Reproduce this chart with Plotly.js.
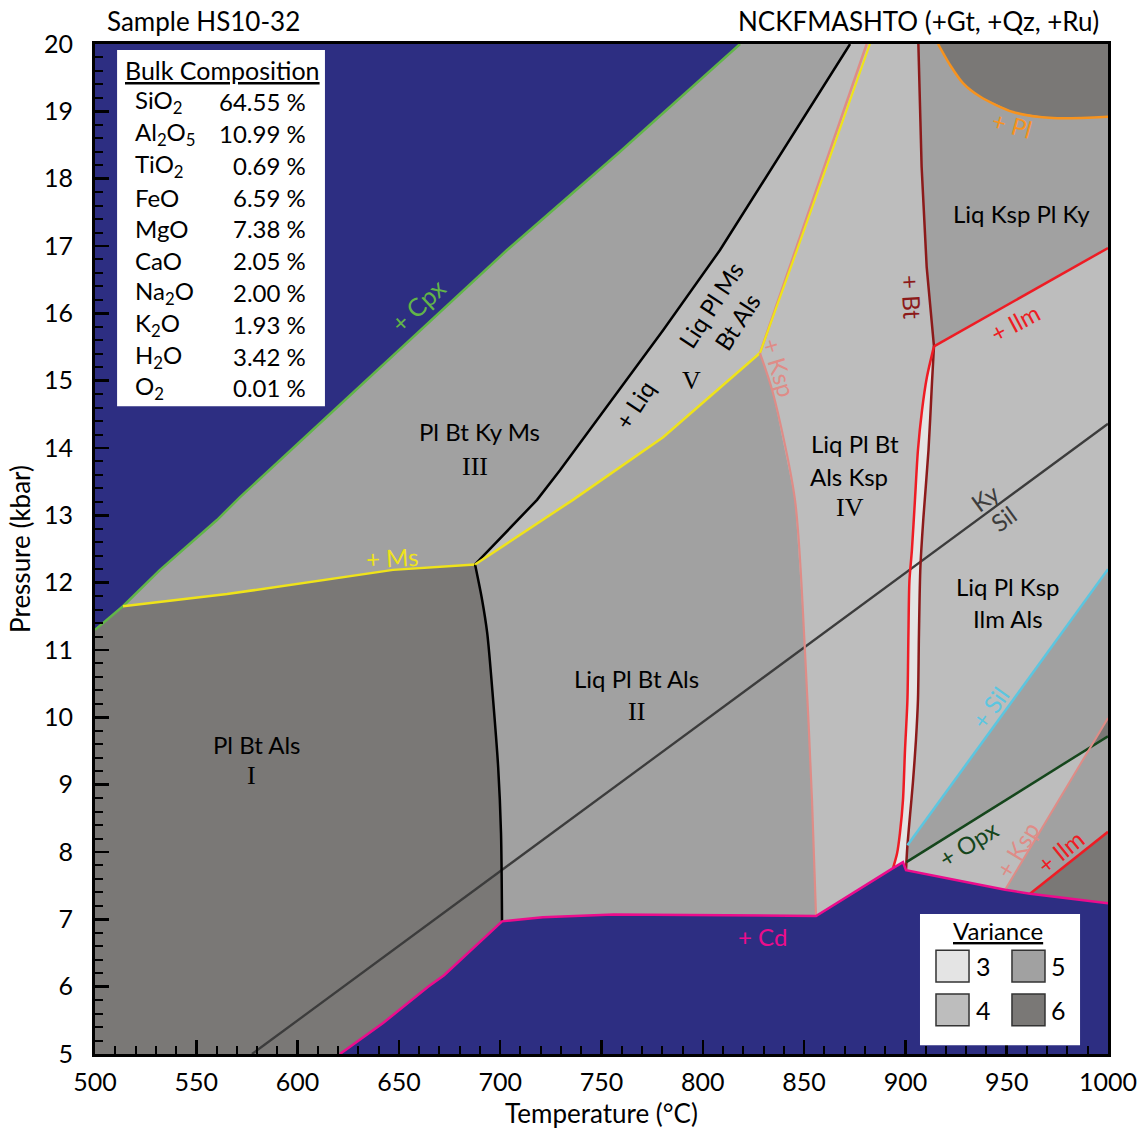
<!DOCTYPE html>
<html>
<head>
<meta charset="utf-8">
<script src="https://cdn.plot.ly/plotly-3.0.1.min.js"></script>
<style>
  html, body { margin: 0; padding: 0; background: #ffffff; }
  #chart { width: 1144px; height: 1131px; }
</style>
</head>
<body>
<div id="chart"></div>
<script>
// ---- Axis extents (T in °C, P in kbar) ----
const Tmin = 500, Tmax = 1000, Pmin = 5, Pmax = 20;

// ---- Reaction lines: temperature (°C) / pressure (kbar) along each boundary ----
const cpxT   = [500, 513.8, 532.1, 560.2, 571.6, 703.4, 759.1, 780.4, 818.4];
const cpxP   = [11.30, 11.65, 12.19, 12.93, 13.27, 16.94, 18.40, 18.98, 20.0];

const msT    = [513.8, 565.2, 647.1, 687.6];
const msP    = [11.65, 11.83, 12.19, 12.27];

const liqHiT = [687.6, 718.2, 729.5, 780.4, 808.5, 872.7];
const liqHiP = [12.27, 13.23, 13.67, 15.75, 16.94, 20.0];

const liqLoT = [687.6, 691.1, 693.6, 696.5, 699.0, 700.4, 700.9];
const liqLoP = [12.27, 11.74, 11.25, 10.26, 9.26, 8.28, 6.97];

const cdT    = [620.9, 642.2, 664.4, 672.3, 700.9, 721.0, 756.0, 805.0, 855.9, 893.9, 898.8, 900.3, 949.2, 961.5, 1000];
const cdP    = [5.00, 5.46, 6.00, 6.17, 6.97, 7.03, 7.07, 7.06, 7.05, 7.76, 7.85, 7.73, 7.44, 7.38, 7.24];

const msHiT  = [687.6, 735.9, 780.4, 828.2];
const msHiP  = [12.27, 13.23, 14.16, 15.41];

const msTopT = [828.2, 846.5, 882.5];
const msTopP = [15.41, 16.94, 20.0];

const kspTopT = [828.2, 880.9];
const kspTopP = [15.41, 20.0];

const kspLoT = [828.2, 834.6, 845.5, 850.4, 853.9, 855.9];
const kspLoP = [15.41, 14.82, 13.23, 11.00, 8.77, 7.05];

const btTopT = [906.4, 908.0, 910.5, 914.1];
const btTopP = [20.0, 18.18, 16.69, 15.51];

const ilmMidT = [914.1, 910.6, 908.2, 906.2, 904.7, 903.2, 902.0, 901.5, 901.0, 899.8, 898.8, 897.3, 895.9, 893.9];
const ilmMidP = [15.51, 15.05, 14.56, 13.97, 13.22, 12.48, 12.03, 11.25, 10.26, 9.51, 8.77, 8.28, 7.98, 7.76];

const btLoT  = [914.1, 913.1, 911.4, 908.9, 907.4, 906.7, 906.2, 905.2, 903.7, 902.3, 901.0, 900.5, 900.3];
const btLoP  = [15.51, 14.96, 13.97, 12.97, 12.23, 11.25, 10.26, 9.66, 9.03, 8.55, 8.10, 7.85, 7.73];

const ilmHiT = [914.1, 956.6, 1000];
const ilmHiP = [15.51, 16.23, 16.97];

const plT    = [916.1, 922.0, 928.4, 936.8, 953.1, 972.8, 1000];
const plP    = [20.0, 19.69, 19.42, 19.22, 18.99, 18.90, 18.92];

const silT   = [901.0, 1000];
const silP   = [8.10, 12.20];

const opxT   = [900.5, 991.4, 1000];
const opxP   = [7.85, 9.56, 9.72];

const kspEaT = [949.2, 991.4, 1000];
const kspEaP = [7.44, 9.56, 9.99];

const ilmLoT = [961.5, 1000];
const ilmLoP = [7.38, 8.30];

const kySilT = [577.5, 1000];
const kySilP = [5.0, 14.36];

// ---- Bulk composition (wt%) ----
const oxides   = ['SiO<sub>2</sub>', 'Al<sub>2</sub>O<sub>5</sub>', 'TiO<sub>2</sub>', 'FeO', 'MgO', 'CaO',
                  'Na<sub>2</sub>O', 'K<sub>2</sub>O', 'H<sub>2</sub>O', 'O<sub>2</sub>'];
const oxideWt  = ['64.55', '10.99', '0.69', '6.59', '7.38', '2.05', '2.00', '1.93', '3.42', '0.01'];

// ---- Variance key ----
const varianceLevels = [3, 4, 5, 6];

// ---- Styles ----
const FONT  = 'Lato, "Noto Sans", sans-serif';
const SERIF = '"Liberation Serif", "DejaVu Serif", serif';
const BLUE  = '#2d2e82';
const VCOL  = { 3: '#e4e4e4', 4: '#bdbdbd', 5: '#a1a1a1', 6: '#7a7876' };
const COL = {
  cpx: '#62b548', ms: '#efe31a', liq: '#000000', ksp: '#df8c87', cd: '#ec0c8c',
  bt: '#8c1a1a', ilm: '#ee1c24', pl: '#f7931e', sil: '#5cc6e0', opx: '#15461c', kysil: '#3c3c3c'
};

// ---- helpers ----
function pts(T, P, i0 = 0, i1 = T.length - 1) {
  const out = [];
  for (let i = i0; i <= i1; i++) out.push([T[i], P[i]]);
  return out;
}
function rev(a) { return a.slice().reverse(); }
function area(parts, color) {
  const all = [].concat(...parts);
  return {
    type: 'scatter', mode: 'lines', x: all.map(p => p[0]), y: all.map(p => p[1]),
    fill: 'toself', fillcolor: color, line: { width: 0 }, hoverinfo: 'skip', showlegend: false
  };
}
function curve(T, P, color, width, smooth) {
  return { type: 'scatter', mode: 'lines', x: T, y: P,
           line: { color: color, width: width, shape: smooth ? 'spline' : 'linear', smoothing: 0.8 },
           hoverinfo: 'skip', showlegend: false };
}

// ---- Stability fields (painted back to front) ----
const traces = [
  // all fields between the Cpx-out and Cd-in lines
  area([pts(cpxT, cpxP), [[Tmax, Pmax]], rev(pts(cdT, cdP)), [[Tmin, Pmin]]], VCOL[4]),
  // I  Pl Bt Als
  area([pts(cpxT, cpxP, 0, 1), pts(msT, msP), pts(liqLoT, liqLoP), rev(pts(cdT, cdP, 0, 4)), [[Tmin, Pmin]]], VCOL[6]),
  // III  Pl Bt Ky Ms
  area([pts(cpxT, cpxP, 1), rev(pts(liqHiT, liqHiP)), rev(pts(msT, msP))], VCOL[5]),
  // II  Liq Pl Bt Als
  area([pts(msHiT, msHiP), pts(kspLoT, kspLoP), rev(pts(cdT, cdP, 4, 8)), rev(pts(liqLoT, liqLoP))], VCOL[5]),
  // narrow three-variant field between Ilm-in and Bt-out
  area([pts(ilmMidT, ilmMidP), pts(cdT, cdP, 9, 11), rev(pts(btLoT, btLoP))], VCOL[3]),
  // Liq Ksp Pl Ky
  area([pts(btTopT, btTopP), pts(ilmHiT, ilmHiP), [[Tmax, Pmax]]], VCOL[5]),
  // Pl-absent cap
  area([pts(plT, plP), [[Tmax, Pmax]]], VCOL[6]),
  // Sil-absent, Opx-absent wedge
  area([pts(silT, silP), rev(pts(opxT, opxP))], VCOL[5]),
  // Ksp-absent, high-T side
  area([pts(kspEaT, kspEaP), rev(pts(cdT, cdP, 12, 14))], VCOL[5]),
  // Ilm-absent corner
  area([pts(ilmLoT, ilmLoP), pts(cdT, cdP, 14, 14)], VCOL[6]),
  // Opx- and Ksp-absent sliver
  area([pts(kspEaT, kspEaP, 1, 2), pts(opxT, opxP, 2, 2)], VCOL[6]),

  // ---- reaction lines ----
  curve(kySilT, kySilP, COL.kysil, 2.3),
  curve(cpxT, cpxP, COL.cpx, 2.5),
  curve(msT, msP, COL.ms, 2.5),
  curve(liqHiT, liqHiP, COL.liq, 2.5),
  curve(liqLoT, liqLoP, COL.liq, 2.5, true),
  curve(kspTopT, kspTopP, COL.ksp, 2.5),
  curve(msHiT, msHiP, COL.ms, 2.5),
  curve(msTopT, msTopP, COL.ms, 2.2),
  curve(kspLoT, kspLoP, COL.ksp, 2.2, true),
  curve(btTopT, btTopP, COL.bt, 2.5),
  curve(btLoT, btLoP, COL.bt, 2.5, true),
  curve(ilmMidT, ilmMidP, COL.ilm, 2.5, true),
  curve(ilmHiT, ilmHiP, COL.ilm, 2.5),
  curve(plT, plP, COL.pl, 2.5, true),
  curve(silT, silP, COL.sil, 2.5),
  curve(opxT, opxP, COL.opx, 2.5),
  curve(kspEaT, kspEaP, COL.ksp, 2),
  curve(ilmLoT, ilmLoP, COL.ilm, 2.5),
  curve(cdT, cdP, COL.cd, 2.5)
];

// ---- Labels ----
function lab(text, x, y, color, size, angle, family) {
  return { text: text, x: x, y: y, xref: 'x', yref: 'y', showarrow: false,
           textangle: angle || 0, font: { family: family || FONT, size: size, color: color },
           xanchor: 'center', yanchor: 'middle' };
}
const LS = 24;   // field / reaction label size
const annotations = [
  // field names
  lab('Pl Bt Ky Ms', 690.0, 14.24, '#000', LS),
  lab('III', 687.6, 13.73, '#000', 26, 0, SERIF),
  lab('Liq Pl Bt Als', 767.5, 10.57, '#000', LS),
  lab('II', 767.5, 10.09, '#000', 26, 0, SERIF),
  lab('Pl Bt Als', 580.0, 9.60, '#000', LS),
  lab('I', 577.0, 9.13, '#000', 26, 0, SERIF),
  lab('Liq Pl Bt', 875.1, 14.06, '#000', LS),
  lab('Als Ksp', 872.1, 13.57, '#000', LS),
  lab('IV', 872.7, 13.12, '#000', 26, 0, SERIF),
  lab('Liq Ksp Pl Ky', 957.1, 17.49, '#000', LS),
  lab('Liq Pl Ksp', 950.6, 11.94, '#000', LS),
  lab('Ilm Als', 950.6, 11.47, '#000', LS),
  lab('V', 794.2, 15.0, '#000', 26, 0, SERIF),
  lab('Liq Pl Ms<br>Bt Als', 810.5, 16.0, '#000', LS, -57),
  // reaction labels
  lab('+ Cpx', 659.4, 16.12, COL.cpx, 25, -43),
  lab('+ Ms', 646.6, 12.38, COL.ms, LS, -3),
  lab('+ Liq', 766.5, 14.64, '#000', LS, -57),
  lab('+ Ksp', 837.6, 15.19, COL.ksp, LS, 73),
  lab('+ Bt', 903.3, 16.24, COL.bt, LS, 87),
  lab('+ Pl', 952.6, 18.80, COL.pl, LS, 15),
  lab('+ Ilm', 954.1, 15.86, COL.ilm, LS, -28),
  lab('Ky', 939.3, 13.27, COL.kysil, LS, -36),
  lab('Sil', 948.2, 12.96, COL.kysil, LS, -36),
  lab('+ Sil', 941.8, 10.14, COL.sil, LS, -54),
  lab('+ Opx', 930.9, 8.13, COL.opx, LS, -32),
  lab('+ Ksp', 955.1, 8.04, COL.ksp, LS, -59),
  lab('+ Ilm', 976.3, 8.01, COL.ilm, LS, -39),
  lab('+ Cd', 829.7, 6.74, COL.cd, LS),
  // headings above the frame
  { text: 'Sample HS10-32', xref: 'paper', yref: 'paper', x: 0.0099, y: 1.0228, xanchor: 'left', yanchor: 'middle',
    showarrow: false, font: { family: FONT, size: 26, color: '#000' } },
  { text: 'NCKFMASHTO (+Gt, +Qz, +Ru)', xref: 'paper', yref: 'paper', x: 0.993, y: 1.0228, xanchor: 'right', yanchor: 'middle',
    showarrow: false, font: { family: FONT, size: 26, color: '#000' } },
  // bulk composition heading
  lab('<u>Bulk Composition</u>', 562.7, 19.61, '#000', 25)
];
oxides.forEach((ox, i) => {
  const y = 19.143 - i * 0.4723;
  annotations.push({ text: ox, x: 518.8, y: y, xref: 'x', yref: 'y', xanchor: 'left', yanchor: 'middle',
                     showarrow: false, font: { family: FONT, size: 24, color: '#000' } });
  annotations.push({ text: oxideWt[i] + ' %', x: 605.1, y: y, xref: 'x', yref: 'y', xanchor: 'right', yanchor: 'middle',
                     showarrow: false, font: { family: FONT, size: 24, color: '#000' } });
});

// ---- Boxes: bulk composition and variance key ----
const shapes = [
  { type: 'rect', xref: 'x', yref: 'y', x0: 510.9, x1: 613.5, y0: 14.62, y1: 19.91,
    fillcolor: '#ffffff', line: { width: 0 } },
  { type: 'rect', xref: 'x', yref: 'y', x0: 907.2, x1: 986.2, y0: 5.13, y1: 7.08,
    fillcolor: '#ffffff', line: { width: 0 } }
];
annotations.push(lab('<u>Variance</u>', 945.7, 6.84, '#000', 24));
// key swatches arranged 3 | 5 on the top row and 4 | 6 below
const keyCells = { 3: [915.1, 6.54], 5: [952.6, 6.54], 4: [915.1, 5.89], 6: [952.6, 5.89] };
varianceLevels.forEach(v => {
  const [x0, y1] = keyCells[v];
  shapes.push({ type: 'rect', xref: 'x', yref: 'y', x0: x0, x1: x0 + 16.3, y0: y1 - 0.47, y1: y1,
                fillcolor: VCOL[v], line: { color: '#333333', width: 1.5 } });
  annotations.push({ text: String(v), x: x0 + 23.2, y: y1 - 0.235, xref: 'x', yref: 'y',
                     xanchor: 'center', yanchor: 'middle', showarrow: false,
                     font: { family: FONT, size: 25, color: '#000' } });
});

const layout = {
  width: 1144, height: 1131,
  margin: { l: 95, r: 36, t: 44, b: 77 },
  paper_bgcolor: '#ffffff', plot_bgcolor: BLUE,
  showlegend: false,
  xaxis: {
    range: [Tmin, Tmax], tickmode: 'linear', tick0: 500, dtick: 50,
    showgrid: false, zeroline: false, showline: true, linecolor: '#000', linewidth: 3, mirror: true,
    layer: 'above traces',
    ticks: 'inside', tickcolor: '#000', tickwidth: 2.5, ticklen: 14, ticklabelstandoff: 4,
    tickfont: { family: FONT, size: 25, color: '#000' },
    minor: { ticks: 'inside', dtick: 10, ticklen: 8, tickwidth: 2, tickcolor: '#000', showgrid: false },
    title: { text: 'Temperature (°C)', font: { family: FONT, size: 26, color: '#000' }, standoff: 10 }
  },
  yaxis: {
    range: [Pmin, Pmax], tickmode: 'linear', tick0: 5, dtick: 1,
    showgrid: false, zeroline: false, showline: true, linecolor: '#000', linewidth: 3, mirror: true,
    layer: 'above traces',
    ticks: 'inside', tickcolor: '#000', tickwidth: 2.5, ticklen: 14, ticklabelstandoff: 14,
    tickfont: { family: FONT, size: 25, color: '#000' },
    minor: { ticks: 'inside', dtick: 0.2, ticklen: 8, tickwidth: 2, tickcolor: '#000', showgrid: false },
    title: { text: 'Pressure (kbar)', font: { family: FONT, size: 26, color: '#000' }, standoff: 6 }
  },
  shapes: shapes,
  annotations: annotations
};

Plotly.newPlot('chart', traces, layout, { staticPlot: true, displayModeBar: false });
</script>
</body>
</html>
